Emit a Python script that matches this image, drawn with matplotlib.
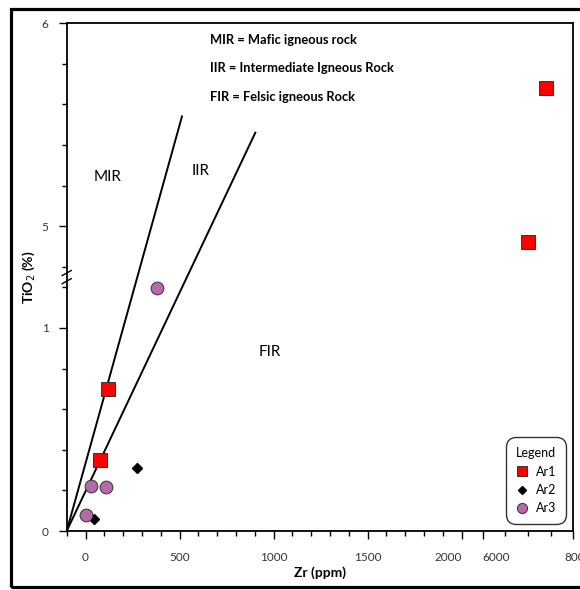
import numpy as np
import matplotlib
matplotlib.use("Agg")
import matplotlib.pyplot as plt
from matplotlib.scale import FuncScale
from matplotlib.patches import Rectangle
from matplotlib.transforms import ScaledTranslation

plt.rcParams['font.family'] = ['Lato', 'DejaVu Sans']

# data
ar1_zr = [7400, 7000, 120, 77]
ar1_ti = [5.68, 4.92, 0.70, 0.35]
ar2_zr = [273, 45]
ar2_ti = [0.31, 0.06]
ar3_zr = [380, 30, 110, 4]
ar3_ti = [1.195, 0.22, 0.215, 0.08]

# field boundary lines (Zr, TiO2)
mir_zr = [-100, 513]
mir_ti = [0, 5.54]
iir_zr = [-100, 903]
iir_ti = [0, 5.46]

x_major = [0, 500, 1000, 1500, 2000, 6000, 8000]
x_minor = [-100] + [v for v in range(100, 2000, 100) if v % 500] + [6500, 7000, 7500]
y_major = [0, 1, 5, 6]
y_minor = [0.2, 0.4, 0.6, 0.8, 1.2, 4.8, 5.2, 5.4, 5.6, 5.8]

# broken axes as piecewise scales
xb = [-1e6, 2000, 6000, 1e6]
xt = [-1e6, 2000, 2112, 2112 + (1e6 - 6000) * 0.241]
yb = [-1e4, 1.25, 4.75, 1e4]
yt = [-1e4, 1.25, 1.251, 1e4 - 3.499]

def fx(v):
    return np.interp(v, xb, xt)

def ix(v):
    return np.interp(v, xt, xb)

def fy(v):
    return np.interp(v, yb, yt)

def iy(v):
    return np.interp(v, yt, yb)

fig = plt.figure(figsize=(5.8, 5.9), dpi=100)
ax = fig.add_axes([0.115, 0.1, 0.8735, 0.861])
ax.set_xscale(FuncScale(ax.xaxis, (fx, ix)))
ax.set_yscale(FuncScale(ax.yaxis, (fy, iy)))

ax.plot(mir_zr, mir_ti, color='black', lw=1.4)
ax.plot(iir_zr, iir_ti, color='black', lw=1.4)

ax.plot(ar1_zr, ar1_ti, 's', ms=9.4, mfc='#ff0000', mec='#333333', mew=0.7, ls='none', label='Ar1', zorder=3)
ax.plot(ar2_zr, ar2_ti, 'D', ms=5, mfc='black', mec='black', ls='none', label='Ar2', zorder=3)
ax.plot(ar3_zr, ar3_ti, 'o', ms=9.2, mfc='#b469a8', mec='#333333', mew=0.7, ls='none', label='Ar3', zorder=3)

ax.set_xlim(-100, 8000)
ax.set_ylim(0, 6)

ax.set_xticks(x_major)
ax.set_xticklabels([str(v) for v in x_major])
ax.set_xticks(x_minor, minor=True)
ax.set_yticks(y_major)
ax.set_yticklabels([str(v) for v in y_major])
ax.set_yticks(y_minor, minor=True)
ax.tick_params(which='major', length=6, width=1, direction='out', labelsize=8.5,
               labelcolor='#333333', pad=7)
ax.tick_params(axis='x', which='major', pad=9)
ax.tick_params(which='minor', length=3.5, width=1, direction='out')

# labels around the x break sit beside their ticks
for tk, v in zip(ax.xaxis.get_major_ticks(), x_major):
    if v == 2000:
        tk.label1.set_ha('right')
    elif v == 6000:
        tk.label1.set_ha('left')
    elif v == 8000:
        tk.label1.set_transform(tk.label1.get_transform() + ScaledTranslation(0.05, 0, fig.dpi_scale_trans))

for s in ax.spines.values():
    s.set_linewidth(1.3)

# break marks on the y axis
yb_frac = 1.25 / 2.501
for dy in (-0.008, 0.008):
    ax.plot([-0.009, 0.009], [yb_frac + dy - 0.005, yb_frac + dy + 0.005],
            transform=ax.transAxes, color='black', lw=1, clip_on=False)

ax.set_xlabel('Zr (ppm)', fontsize=10, fontweight='bold')
ax.set_ylabel('TiO$_2$ (%)', fontsize=10, fontweight='bold')
ax.xaxis.set_label_coords(0.5, -0.07)
ax.yaxis.set_label_coords(-0.058, 0.5)

notes = ['MIR = Mafic igneous rock', 'IIR = Intermediate Igneous Rock', 'FIR = Felsic igneous Rock']
for t, yy in zip(notes, [0.967, 0.911, 0.854]):
    ax.text(0.283, yy, t, transform=ax.transAxes, fontsize=9.3, fontweight='bold', va='center')
ax.text(0.0815, 0.697, 'MIR', transform=ax.transAxes, fontsize=11, ha='center', va='center')
ax.text(0.265, 0.709, 'IIR', transform=ax.transAxes, fontsize=11, ha='center', va='center')
ax.text(0.401, 0.352, 'FIR', transform=ax.transAxes, fontsize=11, ha='center', va='center')

leg = ax.legend(title='Legend', loc='lower right', fontsize=9, title_fontsize=9,
                fancybox=True, framealpha=1, edgecolor='#333333', borderaxespad=0.55,
                borderpad=0.8, handletextpad=0.6, handlelength=1.0, labelspacing=0.5,
                markerscale=0.8)
leg.get_frame().set_linewidth(1)
leg.get_frame().set_boxstyle('round,pad=0,rounding_size=0.8')

fig.patches.append(Rectangle((11.3 / 580, 3.5 / 590), 0.985, 1 - 3.5 / 590 - 9.3 / 590,
                             transform=fig.transFigure, fill=False, lw=2.3, ec='black'))

fig.savefig('out.png', dpi=100)
